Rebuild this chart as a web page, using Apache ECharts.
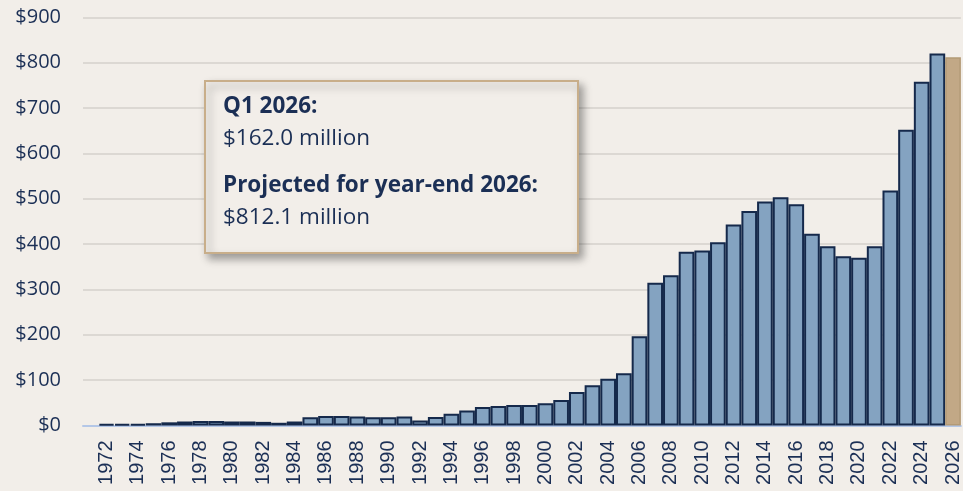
<!DOCTYPE html>
<html>
<head>
<meta charset="utf-8">
<script src="https://cdn.jsdelivr.net/npm/echarts@6/dist/echarts.min.js"></script>
<style>
html,body{margin:0;padding:0;background:#F2EEE9;}
#chart{width:963px;height:491px;}
</style>
</head>
<body>
<div id="chart"></div>
<script>
const years = [];
for (let y = 1971; y <= 2026; y++) years.push(String(y));

const values = [
  null, 3, 3, 3, 5, 7, 9, 10, 10, 9,
  9, 8, 6, 9, 18, 21, 21, 20, 18, 18,
  20, 11, 19, 26, 33, 41, 43, 45, 45, 49,
  56, 74, 89, 103, 115, 197, 315, 331, 383, 386,
  404, 443, 473, 494, 503, 488, 423, 395, 373, 370,
  395, 518, 652, 758, 820, 812.1
];

const yTicks = [0, 100, 200, 300, 400, 500, 600, 700, 800, 900];

const noteLines = ['Q1 2026:', '$162.0 million', 'Projected for year-end 2026:', '$812.1 million'];

const navy = '#1B2F55';
const barData = values.map((v, i) => {
  if (years[i] === '2026') {
    return { value: v, itemStyle: { color: '#C2A886', borderColor: '#B39A76', borderWidth: 1.5 } };
  }
  return v === null ? '-' : v;
});

const chart = echarts.init(document.getElementById('chart'));
chart.setOption({
  backgroundColor: '#F2EEE9',
  animation: false,
  grid: { left: 83, width: 882, top: 17.3, bottom: 65.5 },
  xAxis: {
    type: 'category',
    data: years,
    axisTick: { show: false },
    axisLine: { lineStyle: { color: '#B4C7E7', width: 2 } },
    axisLabel: {
      rotate: 90,
      margin: 15,
      fontSize: 20,
      fontFamily: 'Liberation Sans',
      color: navy,
      interval: (idx, val) => Number(val) % 2 === 0
    }
  },
  yAxis: {
    type: 'value',
    min: yTicks[0],
    max: yTicks[yTicks.length - 1],
    interval: 100,
    axisLine: { show: false },
    axisTick: { show: false },
    splitLine: { lineStyle: { color: '#DCD8D3', width: 2 } },
    axisLabel: {
      margin: 22,
      fontSize: 20,
      fontFamily: 'Open Sans',
      color: navy,
      formatter: v => '$' + v
    }
  },
  series: [{
    type: 'bar',
    data: barData,
    barCategoryGap: '0%',
    itemStyle: { color: '#84A3C1', borderColor: '#15294B', borderWidth: 2 }
  }],
  graphic: [
    {
      type: 'rect',
      left: 204, top: 80,
      shape: { width: 373, height: 172 },
      style: {
        fill: '#F2EEE9', stroke: '#C8AE8A', lineWidth: 2,
        shadowBlur: 8, shadowOffsetX: 4, shadowOffsetY: 5, shadowColor: 'rgba(0,0,0,0.35)'
      },
      z: 100
    },
    { type: 'text', left: 223, top: 95, z: 101,
      style: { text: noteLines[0], font: 'bold 22.5px "Open Sans"', fill: navy } },
    { type: 'text', left: 223, top: 127, z: 101,
      style: { text: noteLines[1], font: '22.5px "Open Sans"', fill: navy } },
    { type: 'text', left: 223, top: 174, z: 101,
      style: { text: noteLines[2], font: 'bold 22.5px "Open Sans"', fill: navy } },
    { type: 'text', left: 223, top: 206, z: 101,
      style: { text: noteLines[3], font: '22.5px "Open Sans"', fill: navy } }
  ]
});
</script>
</body>
</html>
